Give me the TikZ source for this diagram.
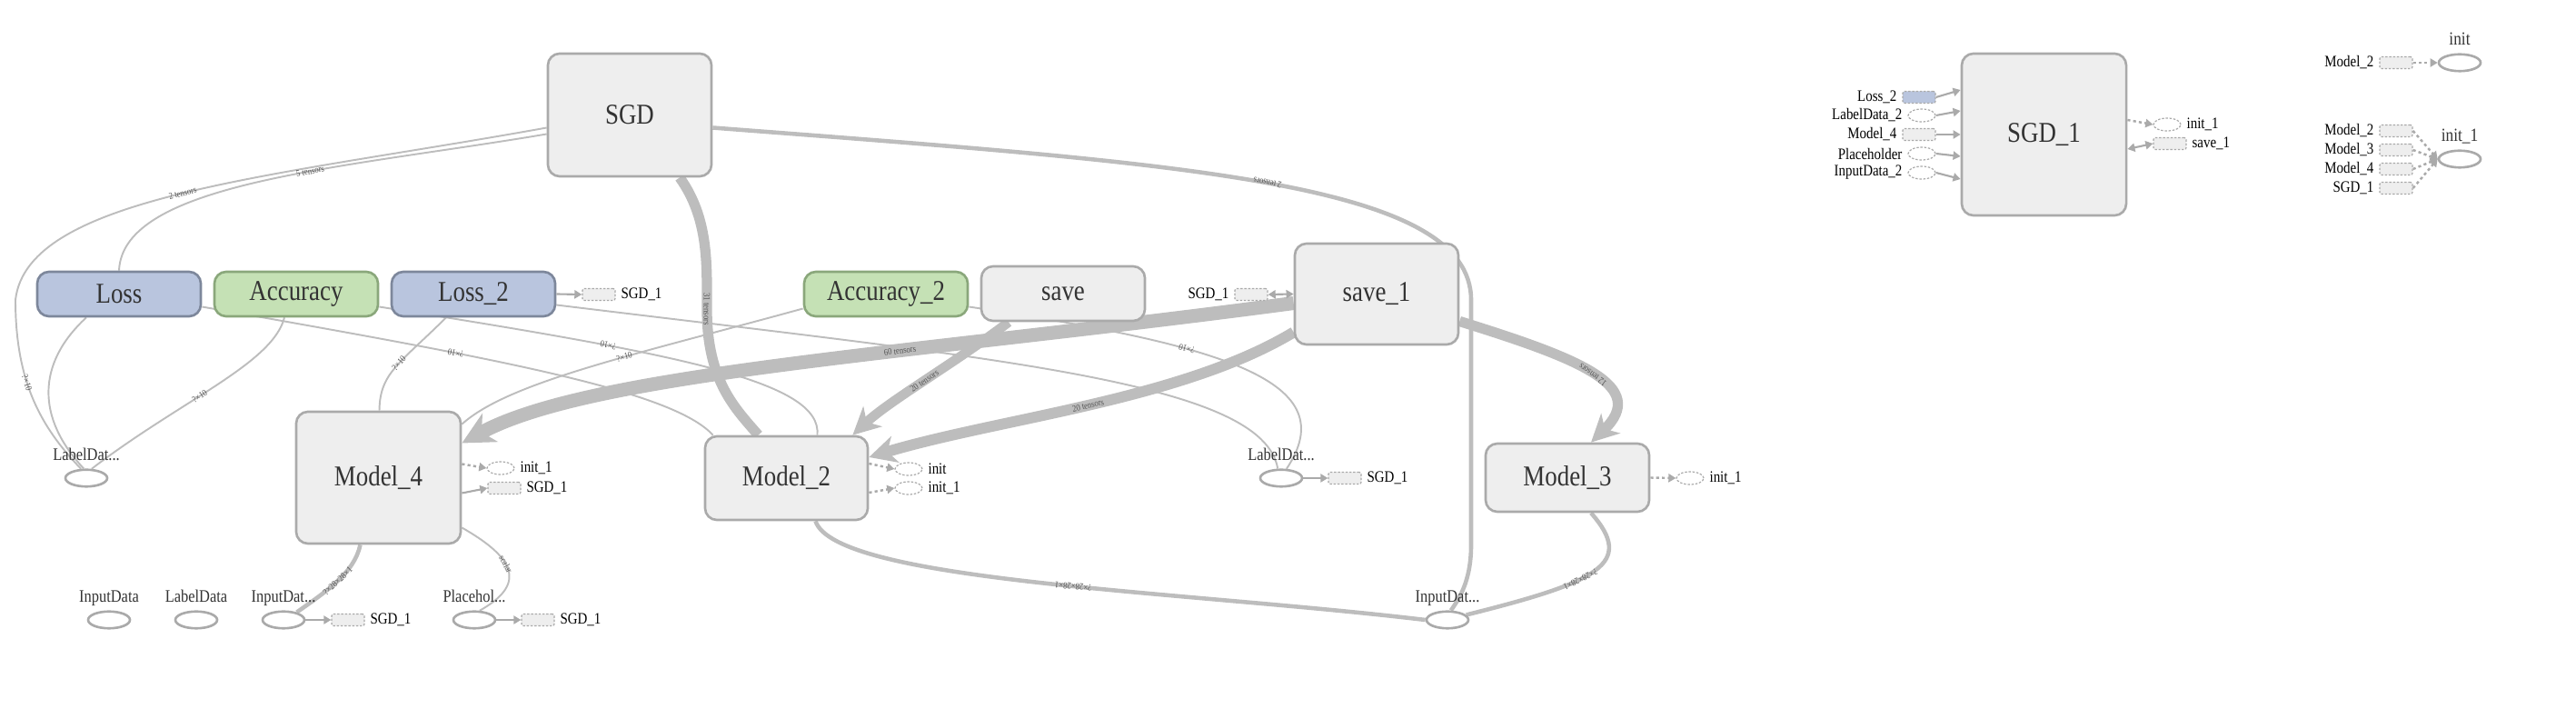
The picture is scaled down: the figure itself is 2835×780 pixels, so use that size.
\documentclass[tikz,border=0pt]{standalone}
\usepackage{fontspec}
\setmainfont{Liberation Serif}[FakeStretch=0.85]
\usetikzlibrary{shapes.geometric,arrows.meta,calc}
\pgfdeclarelayer{background}
\pgfsetlayers{background,main}
\definecolor{nodefill}{HTML}{EEEEEE}
\definecolor{nodeborder}{HTML}{AAAAAA}
\definecolor{bluefill}{HTML}{B9C5DE}
\definecolor{blueborder}{HTML}{7D879B}
\definecolor{greenfill}{HTML}{C5E1B5}
\definecolor{greenborder}{HTML}{8AA77B}
\definecolor{edgec}{HTML}{BDBDBD}
\definecolor{labc}{HTML}{333333}
\definecolor{elabc}{HTML}{555555}
\begin{document}
\begin{tikzpicture}[x=0.01cm,y=-0.01cm,
  big/.style={draw=nodeborder,fill=nodefill,line width=0.75pt,rounded corners=0.13cm,minimum width=1.8cm,inner sep=0pt,text=labc,font=\fontsize{9}{10}\selectfont},
  bluenode/.style={big,draw=blueborder,fill=bluefill},
  greennode/.style={big,draw=greenborder,fill=greenfill},
  ell/.style={ellipse,draw=nodeborder,line width=0.75pt,fill=white,minimum width=0.46cm,minimum height=0.185cm,inner sep=0pt},
  ellab/.style={font=\fontsize{5.5}{6}\selectfont,text=labc,inner sep=0pt,anchor=base},
  tagbox/.style={rectangle,rounded corners=0.6pt,draw=nodeborder,dash pattern=on 0.7pt off 0.5pt,line width=0.35pt,fill=nodefill,minimum width=0.36cm,minimum height=0.13cm,inner sep=0pt},
  tagell/.style={ellipse,draw=nodeborder,dash pattern=on 0.7pt off 0.5pt,line width=0.35pt,fill=white,minimum width=0.3cm,minimum height=0.14cm,inner sep=0pt},
  tagtext/.style={font=\fontsize{5}{6}\selectfont,inner sep=1.5pt,text=black},
  thinedge/.style={draw=edgec,line width=0.55pt},
  medge/.style={draw=edgec,line width=1.3pt},
  fatedge/.style={draw=edgec},
  elab/.style={font=\fontsize{2.9}{3}\selectfont,text=elabc,inner sep=0.3pt},
  tagarrow/.style={draw=nodeborder,line width=0.6pt,-{Triangle[length=2.3pt,width=2.6pt]}},
  ctrlarrow/.style={draw=nodeborder,line width=0.7pt,dash pattern=on 0.9pt off 0.9pt,-{Triangle[length=2.3pt,width=2.6pt]}},
  dblarrow/.style={draw=nodeborder,line width=0.6pt,{Triangle[length=2.3pt,width=2.6pt]}-{Triangle[length=2.3pt,width=2.6pt]}},
  bigtip/.style={-{Stealth[length=10pt,width=10pt,inset=3pt]}},
  midtip/.style={-{Stealth[length=8.5pt,width=8.5pt,inset=2.5pt]}}
]
\useasboundingbox (0,0) rectangle (2835,780);

% main nodes
\node[big,minimum height=1.35cm] (sgd) at (693,126.5) {SGD};
\node[bluenode,minimum height=0.49cm] (loss) at (131,323.5) {Loss};
\node[greennode,minimum height=0.49cm] (acc) at (326,323.5) {Accuracy};
\node[bluenode,minimum height=0.49cm] (loss2) at (521,323.5) {Loss\_2};
\node[greennode,minimum height=0.49cm] (acc2) at (975,323.5) {Accuracy\_2};
\node[big,minimum height=0.6cm] (save) at (1170,323) {save};
\node[big,minimum height=1.11cm] (save1) at (1515,323.5) {save\_1};
\node[big,minimum width=1.81cm,minimum height=1.45cm] (m4) at (416.5,525.5) {Model\_4};
\node[big,minimum width=1.79cm,minimum height=0.92cm] (m2) at (865.5,526) {Model\_2};
\node[big,minimum height=0.75cm] (m3) at (1725,525.5) {Model\_3};
\node[big,minimum width=1.81cm,minimum height=1.78cm] (sgd1) at (2249.5,148) {SGD\_1};

% ellipses
\node[ell] (ldL) at (95,526) {};
\node[ell] (ldR) at (1410,526) {};
\node[ell] (idA) at (120,682) {};
\node[ell] (ldA) at (216,682) {};
\node[ell] (idB) at (312,682) {};
\node[ell] (ph) at (522,682) {};
\node[ell] (idR) at (1593,682) {};
\node[ell] (init) at (2707,69) {};
\node[ell] (init1) at (2707,175) {};
\node[ellab] at ($(ldL.north)+(0,-9)$) {LabelDat...};
\node[ellab] at ($(ldR.north)+(0,-9)$) {LabelDat...};
\node[ellab] at ($(idA.north)+(0,-9)$) {InputData};
\node[ellab] at ($(ldA.north)+(0,-9)$) {LabelData};
\node[ellab] at ($(idB.north)+(0,-9)$) {InputDat...};
\node[ellab] at ($(ph.north)+(0,-9)$) {Placehol...};
\node[ellab] at ($(idR.north)+(0,-9)$) {InputDat...};
\node[ellab,font=\fontsize{5.8}{6}\selectfont] at ($(init.north)+(0,-9)$) {init};
\node[ellab,font=\fontsize{5.8}{6}\selectfont] at ($(init1.north)+(0,-9)$) {init\_1};

% tags
\node[tagbox] (l2t) at (659,324) {};
\node[tagtext,anchor=west] at (l2t.east) {SGD\_1};
\node[tagbox] (s1t) at (1377,324) {};
\node[tagtext,anchor=east] at (s1t.west) {SGD\_1};
\node[tagell] (m4i) at (551,515) {};
\node[tagtext,anchor=west] at (m4i.east) {init\_1};
\node[tagbox] (m4s) at (555,537) {};
\node[tagtext,anchor=west] at (m4s.east) {SGD\_1};
\node[tagell] (m2i) at (1000,516) {};
\node[tagtext,anchor=west] at (m2i.east) {init};
\node[tagell] (m2j) at (1000,537) {};
\node[tagtext,anchor=west] at (m2j.east) {init\_1};
\node[tagell] (m3i) at (1860,526) {};
\node[tagtext,anchor=west] at (m3i.east) {init\_1};
\node[tagbox] (ldRt) at (1480,526) {};
\node[tagtext,anchor=west] at (ldRt.east) {SGD\_1};
\node[tagbox] (idBt) at (383,682) {};
\node[tagtext,anchor=west] at (idBt.east) {SGD\_1};
\node[tagbox] (pht) at (592,682) {};
\node[tagtext,anchor=west] at (pht.east) {SGD\_1};

% SGD_1 tags
\node[tagbox,fill=bluefill] (q1) at (2112,107) {};
\node[tagtext,anchor=east] at (q1.west) {Loss\_2};
\node[tagell] (q2) at (2115,127) {};
\node[tagtext,anchor=east] at (q2.west) {LabelData\_2};
\node[tagbox] (q3) at (2112,148) {};
\node[tagtext,anchor=east] at (q3.west) {Model\_4};
\node[tagell] (q4) at (2115,169) {};
\node[tagtext,anchor=east] at (q4.west) {Placeholder};
\node[tagell] (q5) at (2115,190) {};
\node[tagtext,anchor=east] at (q5.west) {InputData\_2};
\node[tagell] (o1) at (2385,137) {};
\node[tagtext,anchor=west] at (o1.east) {init\_1};
\node[tagbox] (o2) at (2388,158) {};
\node[tagtext,anchor=west] at (o2.east) {save\_1};

% init tags
\node[tagbox] (r0) at (2637,69) {};
\node[tagtext,anchor=east] at (r0.west) {Model\_2};
\node[tagbox] (r1) at (2637,144) {};
\node[tagtext,anchor=east] at (r1.west) {Model\_2};
\node[tagbox] (r2) at (2637,165) {};
\node[tagtext,anchor=east] at (r2.west) {Model\_3};
\node[tagbox] (r3) at (2637,186) {};
\node[tagtext,anchor=east] at (r3.west) {Model\_4};
\node[tagbox] (r4) at (2637,207) {};
\node[tagtext,anchor=east] at (r4.west) {SGD\_1};

% tag arrows
\draw[tagarrow] (loss2.east) -- (l2t.west);
\draw[dblarrow] (s1t.east) -- (save1.west);
\draw[ctrlarrow] ($(m4.east)+(0,-15)$) -- (m4i.west);
\draw[tagarrow] ($(m4.east)+(0,17)$) -- (m4s.west);
\draw[ctrlarrow] ($(m2.east)+(0,-16)$) -- (m2i.west);
\draw[ctrlarrow] ($(m2.east)+(0,16)$) -- (m2j.west);
\draw[ctrlarrow] (m3.east) -- (m3i.west);
\draw[tagarrow] (ldR.east) -- (ldRt.west);
\draw[tagarrow] (idB.east) -- (idBt.west);
\draw[tagarrow] (ph.east) -- (pht.west);
\draw[tagarrow] (q1.east) -- ($(sgd1.west)+(0,-49)$);
\draw[tagarrow] (q2.east) -- ($(sgd1.west)+(0,-26)$);
\draw[tagarrow] (q3.east) -- (sgd1.west);
\draw[tagarrow] (q4.east) -- ($(sgd1.west)+(0,24)$);
\draw[tagarrow] (q5.east) -- ($(sgd1.west)+(0,49)$);
\draw[ctrlarrow] ($(sgd1.east)+(0,-16)$) -- (o1.west);
\draw[dblarrow] ($(sgd1.east)+(0,16)$) -- (o2.west);
\draw[ctrlarrow] (r0.east) -- (init.west);
\draw[ctrlarrow] (r1.east) -- (init1.west);
\draw[ctrlarrow] (r2.east) -- (init1.west);
\draw[ctrlarrow] (r3.east) -- (init1.west);
\draw[ctrlarrow] (r4.east) -- (init1.west);

\begin{pgfonlayer}{background}
% thin edges
\draw[thinedge] ($(sgd.west)+(0,14)$) .. controls (300,195) and (30,215) .. (17,330) node[elab,sloped,pos=.5]{2 tensors}
   .. controls (17,420) and (45,470) .. (ldL.120) node[elab,sloped,pos=.4]{?×10};
\draw[thinedge] ($(sgd.west)+(0,21)$) .. controls (380,185) and (135,200) .. (loss.north) node[elab,sloped,pos=.4]{5 tensors};
\draw[thinedge] ($(loss.south)+(-36,0)$) .. controls (40,400) and (40,460) .. (ldL.105);
\draw[thinedge] ($(acc.south)+(-13,0)$) .. controls (300,400) and (200,440) .. (ldL.60) node[elab,sloped,pos=.58]{?×10};
\draw[thinedge] ($(loss.east)+(0,14)$) .. controls (550,395) and (740,430) .. ($(m2.north west)+(10,0)$) node[elab,sloped,pos=.33,rotate=180]{?×10};
\draw[thinedge] ($(acc.east)+(0,14)$) .. controls (750,390) and (905,420) .. ($(m2.north)+(34,0)$) node[elab,sloped,pos=.3,rotate=180]{?×10};
\draw[thinedge] ($(loss2.south)+(-30,0)$) .. controls (440,400) and (418,410) .. ($(m4.north)+(1,0)$) node[elab,sloped,pos=.45]{?×10};
\draw[thinedge] ($(loss2.east)+(0,12)$) .. controls (1100,395) and (1390,420) .. (ldR.110);
\draw[thinedge] ($(acc2.west)+(0,16)$) .. controls (700,390) and (560,420) .. ($(m4.north east)+(0,15)$) node[elab,sloped,pos=.4]{?×10};
\draw[thinedge] ($(acc2.east)+(0,14)$) .. controls (1350,380) and (1480,420) .. (ldR.60) node[elab,sloped,pos=.35,rotate=180]{?×10};
\draw[thinedge] ($(m4.east)+(0,55)$) .. controls (560,610) and (585,640) .. (ph.60) node[elab,sloped,pos=.45]{scalar};
% medium edges
\draw[medge] ($(m4.south)+(-20,0)$) .. controls (390,630) and (360,650) .. (idB.30) node[elab,sloped,pos=.5]{?×28×28×1};
\draw[medge] ($(m2.south)+(32,0)$) .. controls (920,640) and (1300,650) .. (idR.west) node[elab,sloped,pos=.55,rotate=180]{?×28×28×1};
\draw[medge] ($(m3.south)+(26,0)$) .. controls (1800,620) and (1760,640) .. (idR.15) node[elab,sloped,pos=.6,rotate=180]{?×28×28×1};
\draw[medge] ($(sgd.east)+(0,14)$) .. controls (1300,180) and (1619,200) .. (1619,330) node[elab,sloped,pos=.5,rotate=180]{2 tensors}
   -- (1619,600) .. controls (1619,640) and (1605,660) .. (idR.70);
% thick edges
\draw[fatedge,line width=3.2pt] ($(sgd.south)+(55,0)$) .. controls (780,240) and (778,290) .. (778,340) node[elab,pos=1,rotate=-90]{31 tensors}
   .. controls (778,420) and (810,450) .. ($(m2.north)+(-31,0)$);
\draw[fatedge,line width=4.3pt,bigtip] ($(save1.west)+(0,10)$) .. controls (1000,390) and (650,410) .. ($(m4.east)+(0,-38)$) node[elab,sloped,pos=.37]{60 tensors};
\draw[fatedge,line width=3pt,midtip] ($(save.south)+(-60,0)$) .. controls (1050,400) and (980,440) .. ($(m2.north east)+(-18,0)$) node[elab,sloped,pos=.5]{20 tensors};
\draw[fatedge,line width=3.4pt,midtip] ($(save1.west)+(0,42)$) .. controls (1300,440) and (1100,460) .. ($(m2.east)+(0,-23)$) node[elab,sloped,pos=.5]{20 tensors};
\draw[fatedge,line width=3.2pt,midtip] ($(save1.east)+(0,30)$) .. controls (1740,395) and (1815,425) .. ($(m3.north)+(26,0)$) node[elab,sloped,pos=.5,rotate=180]{12 tensors};
\end{pgfonlayer}
\end{tikzpicture}
\end{document}
